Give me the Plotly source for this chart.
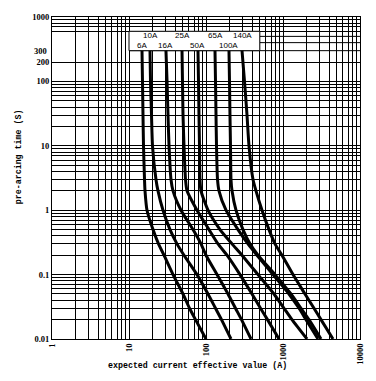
import math
import plotly.graph_objects as go

# pre-arcing time levels (s) at which each curve was read
times = [300, 100, 30, 10, 3, 2, 1, 0.5, 0.3, 0.2, 0.1, 0.05, 0.03, 0.02, 0.01]

# expected current (A) for each fuse rating
i_6A = [14.75, 14.97, 15.2, 15.43, 15.9, 16.14, 17.13, 20.5, 24.16, 28.48, 37.3, 50.26, 61.07, 73.05, 100.0]
i_10A = [18.74, 19.02, 19.6, 20.19, 22.41, 23.81, 27.64, 34.09, 42.02, 51.8, 76.4, 106.2, 132.9, 158.9, 211.2]
i_16A = [30.2, 31.2, 32.1, 33.1, 35.1, 37.3, 47.4, 67.8, 86.1, 100.0, 139.0, 193.1, 241.6, 289.1, 384.1]
i_25A = [48.8, 49.5, 50.3, 51.8, 54.2, 56.7, 76.4, 109.4, 143.2, 187.4, 276.4, 395.8, 510.3, 629.1, 887]
i_50A = [78.7, 79.9, 81.1, 82.3, 83.6, 86.1, 106.2, 152, 217.7, 293, 473.5, 764, 1030, 1309, 2050]
i_65A = [130.9, 132.9, 134.9, 136.9, 141.1, 147.5, 181.9, 260.4, 351, 459.5, 741.6, 1196, 1614, 1990, 2848]
i_100A = [198.9, 201.9, 204.8, 208, 211.2, 217.7, 245.2, 302.3, 372.8, 473.5, 787.3, 1270, 1713, 2176, 3114]
i_140A = [293.5, 316.2, 340.9, 361.7, 407.7, 446, 533.8, 658, 787, 970.5, 1349, 1931, 2527, 3114, 4460]

ratings = ["6A", "10A", "16A", "25A", "50A", "65A", "100A", "140A"]
currents = [i_6A, i_10A, i_16A, i_25A, i_50A, i_65A, i_100A, i_140A]
label_time = [365, 525, 365, 525, 365, 525, 365, 525]

# axis ticks
x_tickvals = [1, 10, 100, 1000, 10000]
x_ticktext = ["1", "10", "100", "1000", "10000"]
y_tickvals = [0.01, 0.1, 1, 10, 100, 200, 1000]
y_ticktext = ["0.01", "0.1", "1", "10", "100", "200", "1000"]
y_extra_label = (300, "300")

x_minor = [m * 10 ** k for k in range(0, 4) for m in range(2, 10)]
y_minor = [m * 10 ** k for k in range(-2, 2) for m in range(2, 10)] + [600, 700, 800, 900]
# grid lines in the top decade that only run right of 10 A
partial_grid_y = [300, 400, 500]
partial_grid_x = [10, 10000]

# white label box
box_x = [10, 500]
box_y = [300, 600]

tick_font = dict(family="Liberation Serif", size=8.5, color="black", weight="bold")
mono_font = dict(family="Liberation Mono", size=8.3, color="black", weight="bold")

fig = go.Figure()

px_, py_ = [], []
for yv in partial_grid_y:
    px_ += [partial_grid_x[0], partial_grid_x[1], None]
    py_ += [yv, yv, None]
fig.add_trace(go.Scatter(x=px_, y=py_, mode="lines", line=dict(color="black", width=1),
                         hoverinfo="skip", showlegend=False))

fig.add_trace(go.Scatter(
    x=[box_x[0], box_x[1], box_x[1], box_x[0], box_x[0]],
    y=[box_y[0], box_y[0], box_y[1], box_y[1], box_y[0]],
    mode="lines", fill="toself", fillcolor="white",
    line=dict(color="black", width=1), hoverinfo="skip", showlegend=False))

for name, cur in zip(ratings, currents):
    fig.add_trace(go.Scatter(x=cur, y=times, mode="lines", name=name,
                             line=dict(color="black", width=3, shape="spline", smoothing=0.6),
                             showlegend=False))

annotations = []
for name, cur, lt in zip(ratings, currents, label_time):
    annotations.append(dict(x=math.log10(cur[0]), y=math.log10(lt), xref="x", yref="y",
                            text=name, showarrow=False,
                            font=dict(family="Liberation Sans", size=8, color="black")))
annotations.append(dict(x=0, xref="paper", xanchor="right", xshift=-3,
                        y=math.log10(y_extra_label[0]), yref="y", yanchor="middle",
                        text=y_extra_label[1], showarrow=False, font=tick_font))
annotations.append(dict(x=-0.11, y=0.565, xref="paper", yref="paper", xanchor="center",
                        yanchor="middle", text="pre-arcing time (S)",
                        textangle=-90, showarrow=False, font=mono_font))
annotations.append(dict(x=0.474, y=-0.081, xref="paper", yref="paper", xanchor="center",
                        yanchor="middle", text="expected current effective value (A)",
                        showarrow=False, font=mono_font))

fig.update_layout(
    width=376, height=381,
    margin=dict(l=52, r=16, t=17, b=42),
    paper_bgcolor="white", plot_bgcolor="white",
    annotations=annotations,
    xaxis=dict(type="log", range=[0, 4], tickvals=x_tickvals, ticktext=x_ticktext,
               tickangle=-90, tickfont=tick_font, ticks="", automargin=False,
               showgrid=True, gridcolor="black", gridwidth=1,
               showline=True, linecolor="black", linewidth=1, mirror=True, zeroline=False,
               minor=dict(tickvals=x_minor, showgrid=True, gridcolor="black", gridwidth=1, ticks="")),
    yaxis=dict(type="log", range=[-2, 3], tickvals=y_tickvals, ticktext=y_ticktext,
               tickfont=tick_font, ticks="", automargin=False,
               showgrid=True, gridcolor="black", gridwidth=1,
               showline=True, linecolor="black", linewidth=1, mirror=True, zeroline=False,
               minor=dict(tickvals=y_minor, showgrid=True, gridcolor="black", gridwidth=1, ticks="")),
)

fig.write_html("out.html", config={"displayModeBar": False},
               post_script="document.body.style.margin='0';document.body.style.overflow='hidden';")
